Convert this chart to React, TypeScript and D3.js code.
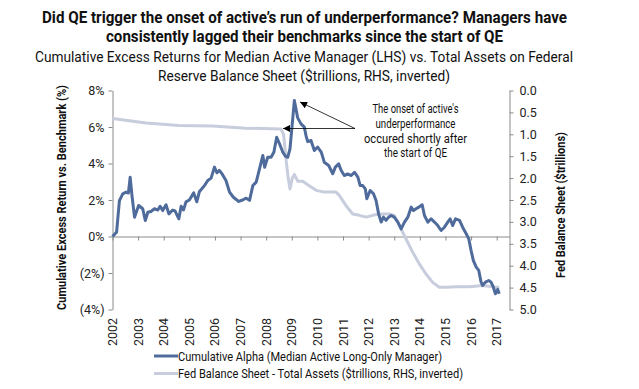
import React, { useEffect, useRef } from "react";
import * as d3 from "d3";

// cumulative alpha of the median active manager, % (LHS)
const alphaYears = [
  2002.0, 2002.16, 2002.27, 2002.4, 2002.53, 2002.62, 2002.69, 2002.76, 2002.86, 2003.02,
  2003.18, 2003.28, 2003.38, 2003.5, 2003.64, 2003.77, 2003.86, 2003.96, 2004.09, 2004.2,
  2004.35, 2004.44, 2004.59, 2004.68, 2004.77, 2004.87, 2005.0, 2005.17, 2005.29, 2005.39,
  2005.59, 2005.72, 2005.85, 2005.98, 2006.08, 2006.17, 2006.28, 2006.43, 2006.57, 2006.72,
  2006.93, 2007.08, 2007.22, 2007.35, 2007.48, 2007.61, 2007.74, 2007.87, 2007.94, 2008.06,
  2008.19, 2008.3, 2008.41, 2008.52, 2008.65, 2008.75, 2008.84, 2008.93, 2009.1, 2009.23,
  2009.36, 2009.49, 2009.56, 2009.62, 2009.75, 2009.88, 2010.01, 2010.15, 2010.27, 2010.44,
  2010.6, 2010.7, 2010.83, 2010.93, 2011.05, 2011.18, 2011.32, 2011.45, 2011.58, 2011.67,
  2011.77, 2011.87, 2011.93, 2012.06, 2012.19, 2012.29, 2012.39, 2012.49, 2012.58, 2012.68,
  2012.78, 2012.88, 2013.0, 2013.14, 2013.27, 2013.4, 2013.53, 2013.66, 2013.75, 2013.85,
  2013.96, 2014.09, 2014.18, 2014.31, 2014.44, 2014.57, 2014.7, 2014.83, 2014.96, 2015.09,
  2015.18, 2015.28, 2015.39, 2015.55, 2015.67, 2015.81, 2015.91, 2016.0, 2016.09, 2016.2,
  2016.3, 2016.39, 2016.45, 2016.56, 2016.69, 2016.78, 2016.87, 2016.95, 2017.04, 2017.1,
];
const alphaValues = [
  0, 0.24, 1.97, 2.34, 2.43, 2.38, 3.25, 2.25, 1.06, 1.7,
  1.52, 0.88, 1.33, 1.37, 1.52, 1.45, 1.66, 1.42, 1.74, 1.24,
  1.45, 1.4, 0.97, 1.66, 1.45, 1.9, 2.0, 2.39, 1.9, 2.45,
  2.79, 3.07, 3.2, 3.8, 3.49, 3.62, 3.43, 3.07, 2.43, 2.15,
  1.92, 2.0, 2.1, 1.98, 2.79, 2.98, 3.71, 4.44, 3.79, 4.34,
  4.34, 4.62, 5.44, 5.08, 4.62, 4.4, 4.34, 4.8, 7.45, 6.5,
  6.17, 5.99, 5.5, 5.2, 5.26, 4.71, 4.9, 4.62, 4.07, 3.89,
  3.44, 3.8, 3.98, 3.62, 3.34, 3.43, 3.34, 3.52, 3.25, 2.79,
  2.79, 2.61, 2.07, 2.52, 2.34, 1.97, 1.24, 0.79, 1.06, 0.88,
  1.06, 1.15, 1.06, 0.79, 0.42, 0.79, 1.06, 1.61, 1.42, 1.52,
  1.61, 1.74, 1.15, 0.79, 0.97, 0.79, 0.6, 0.33, 0.51, 0.79,
  0.97, 0.6, 0.97, 0.88, 0.51, 0.15, -0.13, -0.77, -1.32, -1.68,
  -1.86, -2.5, -2.68, -2.5, -2.41, -2.5, -2.78, -3.14, -2.9, -3.14,
];

// Fed total assets, $trillions (RHS, inverted)
const fedYears = [
  2002.0, 2003.31, 2004.6, 2005.91, 2007.2, 2008.58, 2008.68, 2008.78, 2008.86, 2008.93,
  2009.02, 2009.1, 2009.23, 2009.43, 2009.62, 2009.95, 2010.27, 2010.73, 2010.86, 2011.12,
  2011.38, 2011.64, 2011.9, 2012.16, 2012.42, 2012.81, 2013.0, 2013.2, 2013.46, 2013.72,
  2013.98, 2014.24, 2014.5, 2014.76, 2015.03, 2015.42, 2015.94, 2016.45, 2016.98, 2017.1,
];
const fedValues = [
  0.64, 0.74, 0.8, 0.81, 0.86, 0.88, 1.0, 1.6, 2.0, 2.25,
  2.0, 1.92, 2.07, 2.07, 2.15, 2.28, 2.32, 2.32, 2.4, 2.63,
  2.82, 2.85, 2.89, 2.85, 2.82, 2.82, 2.85, 3.08, 3.39, 3.69,
  3.96, 4.19, 4.38, 4.49, 4.49, 4.48, 4.48, 4.45, 4.49, 4.49,
];

const yearTicks = [2002, 2003, 2004, 2005, 2006, 2007, 2008, 2009, 2010, 2011, 2012, 2013, 2014, 2015, 2016, 2017];
const leftTicks = [8, 6, 4, 2, 0, -2, -4];
const rightTicks = [0, 0.5, 1, 1.5, 2, 2.5, 3, 3.5, 4, 4.5, 5];

const titleLines = [
  "Did QE trigger the onset of active\u2019s run of underperformance? Managers have",
  "consistently lagged their benchmarks since the start of QE",
];
const subtitleLines = [
  "Cumulative Excess Returns for Median Active Manager (LHS) vs. Total Assets on Federal",
  "Reserve Balance Sheet ($trillions, RHS, inverted)",
];
const noteLines = ["The onset of active's", "underperformance", "occured shortly after", "the start of QE"];
const legendNames = [
  "Cumulative Alpha (Median Active Long-Only Manager)",
  "Fed Balance Sheet - Total Assets ($trillions, RHS, inverted)",
];

const DARK = "#4f6b9c";
const LIGHT = "#c7cddd";
const NARROW = "'Liberation Sans Narrow', 'Arial Narrow', Roboto, sans-serif";
const COND = "Roboto, 'Liberation Sans Narrow', sans-serif";

function App() {
  const ref = useRef<SVGSVGElement | null>(null);

  useEffect(() => {
    const svg = d3.select(ref.current);
    svg.selectAll("*").remove();

    const x = d3.scaleLinear().domain([2002, 2017.5]).range([112.5, 509.5]);
    const yL = d3.scaleLinear().domain([-4, 8]).range([309.5, 90.5]);
    const yR = d3.scaleLinear().domain([0, 5]).range([90.5, 309.5]);

    // titles
    const titleW = [525, 397];
    titleLines.forEach((t, i) => {
      svg.append("text").text(t)
        .attr("x", 304.5).attr("y", 22.5 + i * 19.5)
        .attr("text-anchor", "middle")
        .attr("font-family", COND).attr("font-weight", "bold").attr("font-size", 17)
        .attr("textLength", titleW[i]).attr("lengthAdjust", "spacingAndGlyphs")
        .attr("fill", "#111");
    });
    const subW = [538, 292];
    subtitleLines.forEach((t, i) => {
      svg.append("text").text(t)
        .attr("x", 304).attr("y", 62 + i * 18.5)
        .attr("text-anchor", "middle")
        .attr("font-family", COND).attr("font-size", 15)
        .attr("textLength", subW[i]).attr("lengthAdjust", "spacingAndGlyphs")
        .attr("fill", "#111");
    });

    // axes
    const gL = svg.append("g").attr("transform", "translate(112.5,0)")
      .call(d3.axisLeft(yL).tickValues(leftTicks).tickSize(4).tickSizeOuter(0)
        .tickFormat((d) => (+d < 0 ? `(${-d}%)` : `${d}%`)));
    const gR = svg.append("g").attr("transform", "translate(509.5,0)")
      .call(d3.axisRight(yR).tickValues(rightTicks).tickSize(4).tickSizeOuter(0)
        .tickFormat(d3.format(".1f")));
    const gX = svg.append("g").attr("transform", `translate(0,${yL(0)})`)
      .call(d3.axisBottom(x).tickValues(yearTicks).tickSize(4).tickSizeOuter(0).tickFormat(() => ""));

    [gL, gR, gX].forEach((g) => {
      g.selectAll("path, line").attr("stroke", "#8a8a8a");
      g.selectAll("text").attr("font-family", NARROW).attr("font-size", 12.5).attr("fill", "#222");
    });
    gL.selectAll("text").attr("x", -8);
    gR.selectAll("text").attr("x", 10);

    // year labels, rotated at the bottom
    svg.append("g").selectAll("text").data(yearTicks).enter().append("text")
      .text((d) => d)
      .attr("transform", (d) => `translate(${x(d) + 4.5},318) rotate(-90)`)
      .attr("text-anchor", "end")
      .attr("font-family", NARROW).attr("font-size", 12.5).attr("fill", "#222");

    // axis titles
    svg.append("text").text("Cumulative Excess Return vs. Benchmark (%)")
      .attr("transform", "translate(66,197.5) rotate(-90)")
      .attr("text-anchor", "middle")
      .attr("font-family", COND).attr("font-weight", "bold").attr("font-size", 13)
      .attr("textLength", 225).attr("lengthAdjust", "spacingAndGlyphs").attr("fill", "#111");
    svg.append("text").text("Fed Balance Sheet ($trillions)")
      .attr("transform", "translate(565,205) rotate(-90)")
      .attr("text-anchor", "middle")
      .attr("font-family", COND).attr("font-weight", "bold").attr("font-size", 13)
      .attr("textLength", 146).attr("lengthAdjust", "spacingAndGlyphs").attr("fill", "#111");

    // lines
    const fedLine = d3.line<number>().x((d, i) => x(fedYears[i])).y((d) => yR(d));
    const alphaLine = d3.line<number>().x((d, i) => x(alphaYears[i])).y((d) => yL(d));
    svg.append("path").attr("d", fedLine(fedValues) as string)
      .attr("fill", "none").attr("stroke", LIGHT).attr("stroke-width", 3).attr("stroke-linejoin", "round");
    svg.append("path").attr("d", alphaLine(alphaValues) as string)
      .attr("fill", "none").attr("stroke", DARK).attr("stroke-width", 3).attr("stroke-linejoin", "round");

    // annotation
    svg.append("defs").append("marker")
      .attr("id", "arrow").attr("viewBox", "0 0 10 10").attr("refX", 10).attr("refY", 5)
      .attr("markerWidth", 9).attr("markerHeight", 7).attr("orient", "auto")
      .attr("markerUnits", "userSpaceOnUse")
      .append("path").attr("d", "M0,0 L10,5 L0,10 Z").attr("fill", "#000");
    const from: [number, number] = [355, 128.5];
    const targets: [number, number][] = [[300, 102], [283, 128.5]];
    targets.forEach((t) => {
      svg.append("line")
        .attr("x1", from[0]).attr("y1", from[1]).attr("x2", t[0]).attr("y2", t[1])
        .attr("stroke", "#000").attr("stroke-width", 0.8).attr("marker-end", "url(#arrow)");
    });
    const noteW = [86, 80, 103, 63];
    noteLines.forEach((t, i) => {
      svg.append("text").text(t)
        .attr("x", 415.5).attr("y", 113 + i * 14.8)
        .attr("text-anchor", "middle")
        .attr("font-family", COND).attr("font-size", 12.5)
        .attr("textLength", noteW[i]).attr("lengthAdjust", "spacingAndGlyphs")
        .attr("fill", "#111");
    });

    // legend
    const legW = [264, 285];
    [DARK, LIGHT].forEach((c, i) => {
      const ly = 356 + i * 17.5;
      svg.append("line").attr("x1", 154).attr("x2", 178).attr("y1", ly).attr("y2", ly)
        .attr("stroke", c).attr("stroke-width", 3);
      svg.append("text").text(legendNames[i])
        .attr("x", 178).attr("y", ly + 4.5)
        .attr("font-family", COND).attr("font-size", 13.5)
        .attr("textLength", legW[i]).attr("lengthAdjust", "spacingAndGlyphs")
        .attr("fill", "#111");
    });
  }, []);

  return (
    <svg ref={ref} width={639} height={389}
      style={{ position: "absolute", left: 0, top: 0, background: "#fff" }} />
  );
}

export default App;
